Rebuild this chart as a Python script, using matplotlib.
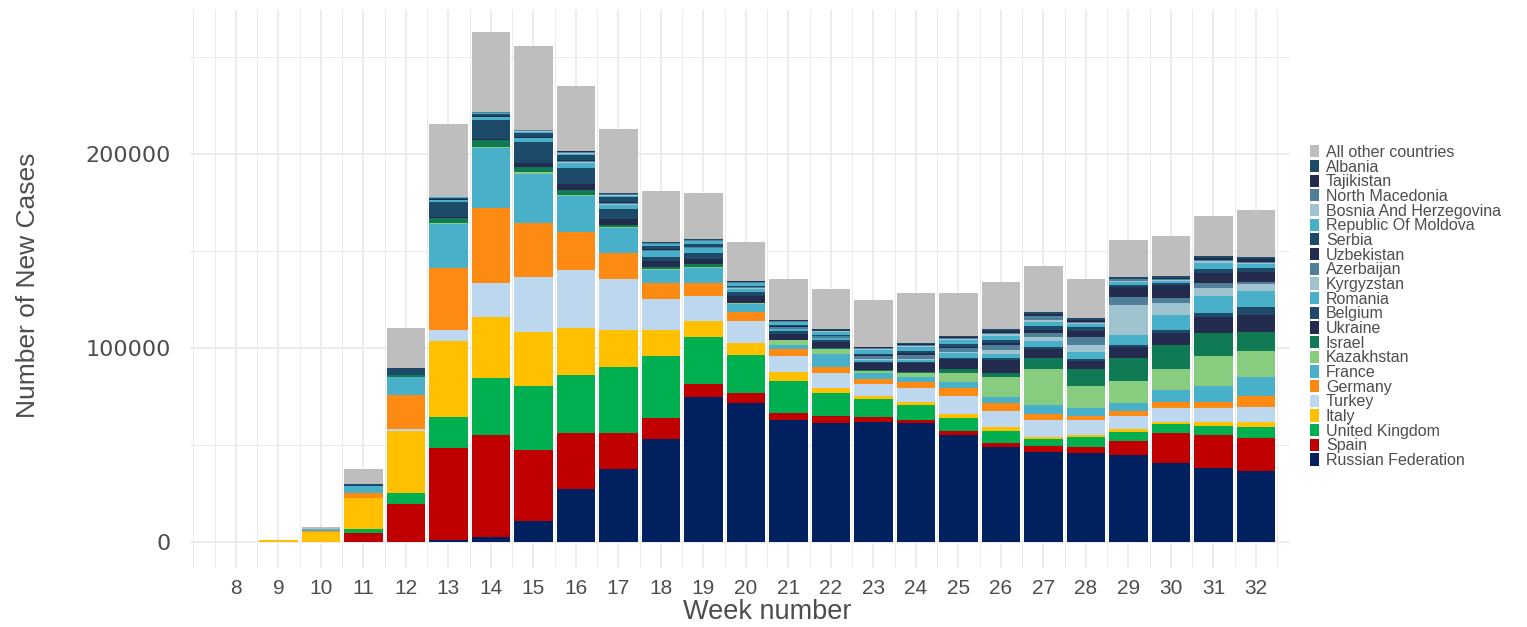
"""Weekly new cases by country, stacked bars (weeks 8-32)."""
import numpy as np
import matplotlib
matplotlib.use("Agg")
import matplotlib.pyplot as plt
from matplotlib.patches import Patch

# week numbers on the x axis
WEEKS = list(range(8, 33))

# new cases per week, in thousands
RUSSIA = [0, 0, 0, 0.1, 0.2, 1.2, 2.8, 10.6, 27.2, 37.7, 53.0, 74.6, 71.5, 62.9, 61.2,
          62.0, 61.2, 55.2, 49.1, 46.6, 45.7, 44.7, 40.6, 38.0, 36.8]
SPAIN = [0, 0, 0, 4.7, 19.2, 47.1, 52.3, 36.8, 28.9, 18.4, 10.8, 6.8, 5.1, 3.8, 3.8,
         2.6, 1.7, 2.0, 2.1, 2.9, 3.4, 7.5, 15.4, 17.2, 16.7]
UK = [0, 0, 0, 1.9, 5.7, 16.3, 29.2, 33.0, 30.0, 33.9, 31.9, 24.1, 20.0, 16.5, 11.6,
      8.9, 7.7, 6.6, 6.0, 3.6, 4.9, 4.7, 4.8, 4.8, 5.6]
ITALY = [0.1, 0.9, 5.3, 15.8, 32.3, 38.9, 31.8, 28.0, 24.1, 19.3, 13.6, 8.6, 5.8, 4.6, 3.0,
         1.9, 1.7, 2.2, 1.9, 1.2, 1.2, 1.2, 1.2, 2.0, 2.9]
TURKEY = [0, 0, 0, 0, 0.9, 5.8, 17.4, 28.3, 29.9, 26.0, 16.1, 12.7, 11.7, 8.1, 7.3,
          5.9, 7.3, 9.4, 8.6, 8.6, 7.7, 6.9, 6.9, 6.9, 7.4]
GERMANY = [0, 0, 0.5, 2.6, 17.3, 31.7, 38.9, 27.8, 19.6, 13.9, 8.0, 6.9, 4.6, 3.4, 3.1,
           2.7, 2.7, 4.2, 3.8, 3.1, 2.1, 2.7, 3.4, 3.4, 6.0]
FRANCE = [0, 0, 0.8, 3.8, 9.6, 23.0, 30.8, 25.3, 18.4, 12.7, 6.9, 7.4, 4.0, 2.3, 6.9,
          2.9, 2.9, 2.7, 3.1, 4.6, 3.9, 4.1, 6.1, 8.1, 9.8]
KAZAKHSTAN = [0, 0, 0, 0, 0.1, 0.5, 0.2, 0.9, 0.7, 0.4, 0.3, 0.8, 0.6, 2.3, 2.6,
              1.2, 2.0, 5.0, 10.6, 18.4, 11.5, 11.4, 10.6, 15.5, 13.4]
ISRAEL = [0, 0, 0, 0.2, 0.8, 2.6, 3.8, 2.6, 2.8, 1.2, 0.9, 1.4, 0.1, 0.2, 0.3,
          0.6, 0.6, 1.7, 1.8, 5.7, 8.6, 11.5, 12.6, 11.7, 9.8]
UKRAINE = [0, 0, 0, 0, 0.2, 0.3, 0.6, 2.2, 3.0, 3.1, 3.2, 2.8, 3.2, 3.2, 3.5,
           3.4, 4.5, 5.1, 7.0, 5.0, 4.4, 6.0, 6.0, 8.6, 8.6]
BELGIUM = [0, 0, 0, 1.0, 3.3, 7.9, 9.9, 10.5, 8.2, 5.0, 2.4, 2.6, 2.0, 1.2, 0.7,
           0.7, 0.6, 0.6, 0.7, 0.6, 0.8, 0.9, 1.7, 2.0, 4.0]
ROMANIA = [0, 0, 0, 0, 0.2, 1.1, 1.3, 2.0, 2.6, 2.2, 2.8, 2.6, 1.8, 1.2, 1.0,
           1.2, 0.8, 2.6, 2.2, 3.5, 3.9, 5.1, 7.7, 8.6, 8.6]
KYRGYZSTAN = [0, 0, 0, 0, 0, 0, 0.1, 0.1, 0.3, 0.3, 0.2, 0.2, 0.3, 0.3, 0.2,
              0.3, 0.5, 0.8, 2.1, 2.1, 3.5, 15.5, 6.0, 4.0, 3.2]
AZERBAIJAN = [0, 0, 0, 0, 0, 0.1, 0.2, 0.3, 0.6, 0.5, 0.5, 0.5, 0.6, 0.9, 0.8,
              1.5, 2.2, 1.7, 2.6, 2.0, 4.3, 3.9, 2.6, 2.9, 1.4]
UZBEKISTAN = [0, 0, 0, 0, 0, 0.1, 0.2, 0.3, 0.5, 0.6, 0.3, 0.3, 0.3, 0.3, 0.4,
              0.6, 1.0, 0.8, 1.2, 1.5, 3.0, 5.5, 6.9, 4.8, 5.2]
SERBIA = [0, 0, 0, 0, 0.1, 0.7, 0.9, 2.0, 2.5, 2.4, 1.5, 1.5, 0.6, 0.5, 0.4,
          0.6, 1.2, 1.5, 1.3, 2.1, 1.8, 1.0, 0.8, 2.2, 1.7]
MOLDOVA = [0, 0, 0, 0, 0, 0.3, 0.5, 0.8, 0.9, 0.9, 1.0, 1.2, 1.2, 1.5, 1.5,
           2.0, 2.1, 2.0, 2.3, 2.0, 1.5, 1.4, 1.3, 3.0, 2.2]
BOSNIA = [0, 0, 0, 0, 0, 0.1, 0.3, 0.3, 0.4, 0.4, 0.3, 0.3, 0.3, 0.3, 0.2,
          0.3, 0.3, 0.4, 0.6, 1.0, 0.6, 0.5, 0.6, 0.9, 0.6]
N_MACEDONIA = [0, 0, 0, 0, 0, 0.1, 0.3, 0.4, 0.6, 0.6, 0.4, 0.4, 0.5, 0.4, 0.4,
               0.5, 0.3, 0.6, 0.6, 1.8, 0.8, 0.8, 0.6, 0.8, 0.6]
TAJIKISTAN = [0, 0, 0, 0, 0, 0, 0, 0, 0.1, 0.1, 0.1, 0.1, 0.2, 0.3, 0.5,
              0.5, 0.5, 0.5, 1.0, 1.2, 0.9, 0.5, 0.5, 0.8, 1.2]
ALBANIA = [0, 0, 0, 0, 0, 0.2, 0.2, 0.2, 0.2, 0.3, 0.2, 0.2, 0.3, 0.2, 0.2,
           0.4, 1.0, 0.6, 1.0, 1.2, 0.8, 0.6, 0.8, 1.4, 1.4]
OTHER = [0, 0.1, 1.0, 7.5, 20.2, 37.6, 41.3, 43.1, 33.6, 32.9, 26.3, 23.8, 20.1, 21.0, 20.8,
         24.1, 25.7, 22.3, 24.6, 23.6, 20.1, 19.3, 20.6, 20.6, 24.0]

DKTEAL = "#1d4a68"
NAVY = "#232b4f"
STEEL = "#4f7f99"
LIGHT = "#9fc3cf"
CYAN = "#48b0c9"

# bottom -> top stacking order
SERIES = [
    ("Russian Federation", RUSSIA, "#002060"),
    ("Spain", SPAIN, "#c00000"),
    ("United Kingdom", UK, "#00b050"),
    ("Italy", ITALY, "#ffc000"),
    ("Turkey", TURKEY, "#bdd7ee"),
    ("Germany", GERMANY, "#fd8a12"),
    ("France", FRANCE, CYAN),
    ("Kazakhstan", KAZAKHSTAN, "#88cc80"),
    ("Israel", ISRAEL, "#107a55"),
    ("Ukraine", UKRAINE, NAVY),
    ("Belgium", BELGIUM, DKTEAL),
    ("Romania", ROMANIA, CYAN),
    ("Kyrgyzstan", KYRGYZSTAN, LIGHT),
    ("Azerbaijan", AZERBAIJAN, STEEL),
    ("Uzbekistan", UZBEKISTAN, NAVY),
    ("Serbia", SERBIA, DKTEAL),
    ("Republic Of Moldova", MOLDOVA, CYAN),
    ("Bosnia And Herzegovina", BOSNIA, LIGHT),
    ("North Macedonia", N_MACEDONIA, STEEL),
    ("Tajikistan", TAJIKISTAN, NAVY),
    ("Albania", ALBANIA, DKTEAL),
    ("All other countries", OTHER, "#bebebe"),
]

TEXT = "#4d4d4d"
GRID = "#ebebeb"
SANS = "Liberation Sans"

W, H = 1527, 627
fig = plt.figure(figsize=(W / 100, H / 100), dpi=100)
ax = fig.add_axes([190 / W, 59 / H, 1100 / W, 558 / H])

bottom = np.zeros(len(WEEKS))
handles = []
for name, vals, color in SERIES:
    v = np.array(vals) * 1000
    ax.bar(WEEKS, v, bottom=bottom, width=0.9, color=color, linewidth=0, zorder=2)
    bottom += v
    handles.append(Patch(facecolor=color, edgecolor="none", label=name))

ax.set_xlim(6.918, 32.8)
ax.set_ylim(-13400, 274200)

ax.set_xticks(WEEKS)
ax.set_xticks([x for x in np.arange(7, 33, 0.5) if x not in WEEKS], minor=True)
ax.set_yticks([0, 100000, 200000])
ax.set_yticks([50000, 150000, 250000], minor=True)
ax.set_yticklabels(["0", "100000", "200000"])
ax.grid(True, which="major", color=GRID, linewidth=1.3, zorder=0)
ax.grid(True, which="minor", color=GRID, linewidth=0.7, zorder=0)
ax.set_axisbelow(True)
for s in ax.spines.values():
    s.set_visible(False)
ax.tick_params(which="both", length=0)
ax.tick_params(axis="x", pad=8, labelcolor=TEXT)
ax.tick_params(axis="y", pad=14, labelcolor=TEXT)
for lab in ax.get_xticklabels():
    lab.set_family(SANS)
    lab.set_fontsize(15)
for lab in ax.get_yticklabels():
    lab.set_family("DejaVu Sans")
    lab.set_fontsize(16)

fig.text(767 / W, 2 / H, "Week number", ha="center", va="bottom",
         fontsize=19.5, color=TEXT, family=SANS)
fig.text(28 / W, 1 - 285 / H, "Number of New Cases", ha="center", va="center",
         rotation=90, fontsize=19, color=TEXT, family=SANS)

fig.legend(handles=handles[::-1], loc="center left",
           bbox_to_anchor=(1310 / W, 1 - 306.5 / H), frameon=False,
           labelcolor=TEXT, prop={"family": SANS, "size": 11.5},
           labelspacing=-0.02, handlelength=0.55, handleheight=0.8,
           handletextpad=0.45, borderpad=0, borderaxespad=0)

fig.savefig("out.png", dpi=100)
